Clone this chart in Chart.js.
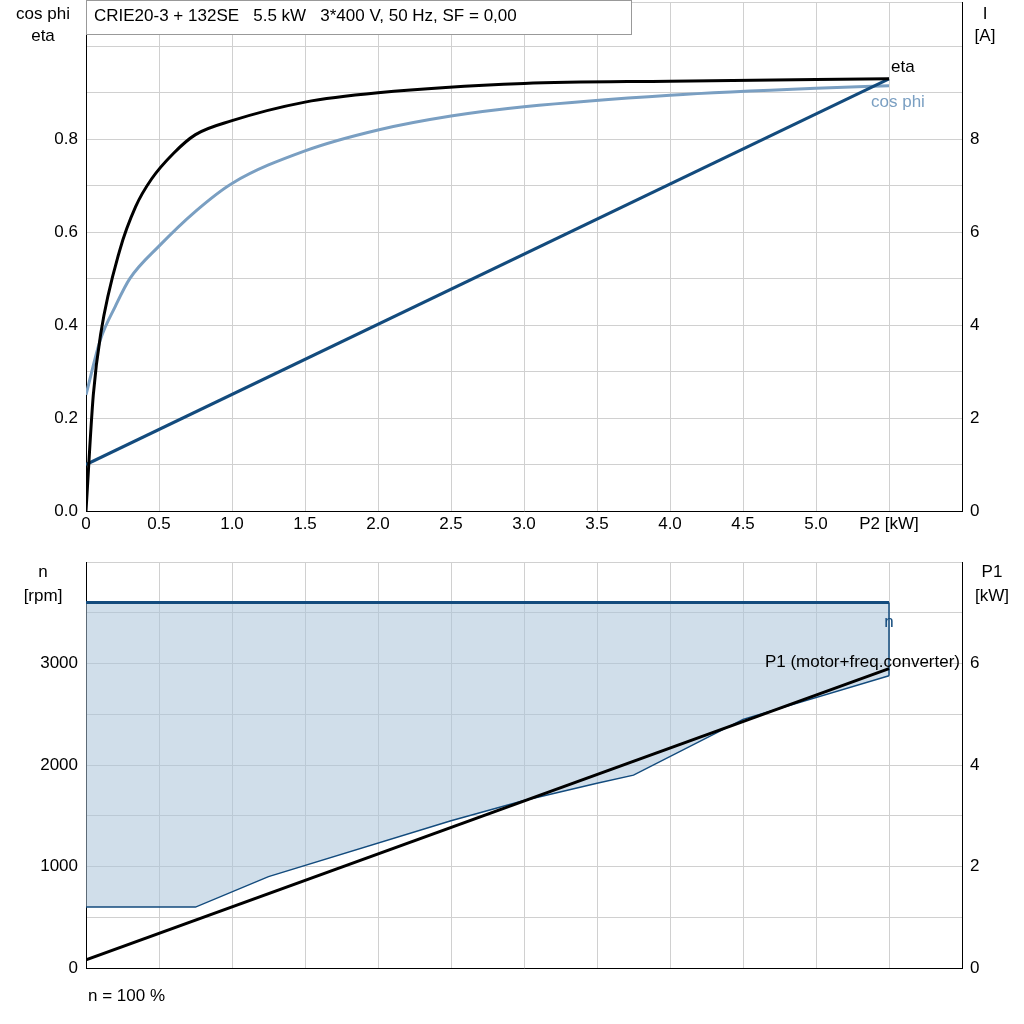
<!DOCTYPE html>
<html>
<head>
<meta charset="utf-8">
<script src="https://cdn.jsdelivr.net/npm/chart.js@4/dist/chart.umd.min.js"></script>
<style>
  body { margin: 0; background: #fff; overflow: hidden; }
  canvas { position: absolute; left: 0; }
  #top { top: -16px; }
  #bottom { top: 540px; }
</style>
</head>
<body>
<canvas id="top" width="1024" height="556"></canvas>
<canvas id="bottom" width="1024" height="484"></canvas>
<script>
// top chart data (x = P2 [kW])
var etaX = [0, 0.05, 0.1, 0.23, 0.34, 0.45, 0.6, 0.75, 1.0, 1.5, 2.0, 3.0, 4.0, 5.5];
var etaY = [0, 0.25, 0.38, 0.56, 0.655, 0.715, 0.77, 0.81, 0.84, 0.88, 0.9, 0.92, 0.925, 0.93];
var cosX = [0, 0.1, 0.2, 0.3, 0.5, 0.75, 1.0, 1.5, 2.0, 2.5, 3.0, 4.0, 5.0, 5.5];
var cosY = [0.25, 0.37, 0.44, 0.5, 0.57, 0.645, 0.705, 0.775, 0.82, 0.85, 0.87, 0.895, 0.91, 0.915];
var curX = [0, 5.5];
var curY = [1.0, 9.3];

// bottom chart data
var nX = [0, 5.5];
var nY = [3600, 3600];
var nLowX = [0, 0.75, 1.25, 2.5, 3.0, 3.5, 3.75, 4.5, 5.5];
var nLowY = [600, 600, 900, 1450, 1650, 1820, 1900, 2450, 2880];
var p1X = [0, 5.5];
var p1Y = [0.16, 5.9];

var font = { family: "'Liberation Sans', Arial, sans-serif", size: 17 };
var gridCol = '#d0d0d0';
var darkBlue = '#134b7d';
var lightBlue = '#7a9fc2';

function pts(xs, ys) { return xs.map(function (x, i) { return { x: x, y: ys[i] }; }); }
function fixW(w) { return function (s) { s.width = w; }; }
function fixH(h) { return function (s) { s.height = h; }; }

var textPlugin = function (items) {
  return {
    id: 'texts',
    afterDraw: function (chart) {
      var ctx = chart.ctx;
      ctx.save();
      ctx.font = "17px 'Liberation Sans', Arial, sans-serif";
      ctx.textBaseline = 'middle';
      items(chart).forEach(function (t) {
        if (t.box) {
          ctx.fillStyle = '#fff';
          ctx.fillRect(t.box[0], t.box[1], t.box[2], t.box[3]);
          ctx.strokeStyle = '#999';
          ctx.lineWidth = 1;
          ctx.strokeRect(t.box[0] + 0.5, t.box[1] + 0.5, t.box[2], t.box[3]);
        }
        ctx.fillStyle = t.c || '#000';
        ctx.textAlign = t.a || 'left';
        ctx.fillText(t.s, t.x, t.y);
      });
      ctx.restore();
    }
  };
};

new Chart(document.getElementById('top').getContext('2d'), {
  type: 'line',
  data: {
    datasets: [
      { data: pts(curX, curY), yAxisID: 'y2', borderColor: darkBlue, borderWidth: 3, pointRadius: 0 },
      { data: pts(cosX, cosY), yAxisID: 'y', borderColor: lightBlue, borderWidth: 3, pointRadius: 0, cubicInterpolationMode: 'monotone' },
      { data: pts(etaX, etaY), yAxisID: 'y', borderColor: '#000', borderWidth: 3, pointRadius: 0, cubicInterpolationMode: 'monotone', order: -1 }
    ]
  },
  options: {
    responsive: false, animation: false,
    layout: { padding: { top: 18, left: 0, right: 0 } },
    plugins: { legend: { display: false }, tooltip: { enabled: false } },
    scales: {
      x: {
        type: 'linear', min: 0, max: 6, afterFit: fixH(29),
        ticks: { stepSize: 0.5, font: font, color: '#000', maxRotation: 0,
          callback: function (v) { return v === 0 ? '0' : (v === 5.5 ? 'P2 [kW]' : (v >= 6 ? '' : v.toFixed(1))); } },
        grid: { color: gridCol, tickLength: 0 }, border: { color: '#000' }
      },
      y: {
        position: 'left', min: 0, max: 1.095, afterFit: fixW(86),
        ticks: { stepSize: 0.1, font: font, color: '#000', padding: 8,
          callback: function (v) { var r = Math.round(v * 10); return (r % 2 === 0 && r <= 8) ? (r / 10).toFixed(1) : ''; } },
        grid: { color: gridCol, tickLength: 0 }, border: { color: '#000' }
      },
      y2: {
        position: 'right', min: 0, max: 10.95, afterFit: fixW(62),
        ticks: { stepSize: 1, font: font, color: '#000', padding: 8,
          callback: function (v) { return (v % 2 === 0 && v <= 8) ? String(v) : ''; } },
        grid: { display: false, tickLength: 0 }, border: { color: '#000' }
      }
    }
  },
  plugins: [textPlugin(function (c) {
    var x = c.scales.x, y = c.scales.y;
    return [
      { s: 'CRIE20-3 + 132SE   5.5 kW   3*400 V, 50 Hz, SF = 0,00', x: 94, y: 32, box: [86, 16, 545, 34] },
      { s: 'cos phi', x: 43, y: 30, a: 'center' },
      { s: 'eta', x: 43, y: 52, a: 'center' },
      { s: 'I', x: 985, y: 30, a: 'center' },
      { s: '[A]', x: 985, y: 52, a: 'center' },
      { s: 'eta', x: x.getPixelForValue(5.5) + 2, y: y.getPixelForValue(0.93) - 12 },
      { s: 'cos phi', x: x.getPixelForValue(5.5) - 18, y: y.getPixelForValue(0.915) + 16, c: lightBlue }
    ];
  })]
});

new Chart(document.getElementById('bottom').getContext('2d'), {
  type: 'line',
  data: {
    datasets: [
      { data: pts(nLowX, nLowY), yAxisID: 'y', borderColor: darkBlue, borderWidth: 1.5, pointRadius: 0 },
      { data: pts(nX, nY), yAxisID: 'y', borderColor: darkBlue, borderWidth: 3, pointRadius: 0,
        fill: '-1', backgroundColor: 'rgba(170,194,216,0.55)' },
      { data: pts([5.5, 5.5], [nLowY[nLowY.length - 1], nY[1]]), yAxisID: 'y', borderColor: darkBlue, borderWidth: 1.5, pointRadius: 0 },
      { data: pts(p1X, p1Y), yAxisID: 'y2', borderColor: '#000', borderWidth: 3, pointRadius: 0, order: -1 }
    ]
  },
  options: {
    responsive: false, animation: false,
    layout: { padding: { top: 22 } },
    plugins: { legend: { display: false }, tooltip: { enabled: false }, filler: { propagate: false, drawTime: 'beforeDatasetsDraw' } },
    scales: {
      x: {
        type: 'linear', min: 0, max: 6, afterFit: fixH(56),
        ticks: { stepSize: 0.5, display: false },
        grid: { color: gridCol, tickLength: 0 }, border: { color: '#000' }
      },
      y: {
        position: 'left', min: 0, max: 4000, afterFit: fixW(86),
        ticks: { stepSize: 500, font: font, color: '#000', padding: 8,
          callback: function (v) { return (v % 1000 === 0 && v <= 3000) ? String(v) : ''; } },
        grid: { color: gridCol, tickLength: 0 }, border: { color: '#000' }
      },
      y2: {
        position: 'right', min: 0, max: 8, afterFit: fixW(62),
        ticks: { stepSize: 1, font: font, color: '#000', padding: 8,
          callback: function (v) { return (v % 2 === 0 && v <= 6) ? String(v) : ''; } },
        grid: { display: false, tickLength: 0 }, border: { color: '#000' }
      }
    }
  },
  plugins: [textPlugin(function (c) {
    var x = c.scales.x, y = c.scales.y;
    return [
      { s: 'n', x: 43, y: 32, a: 'center' },
      { s: '[rpm]', x: 43, y: 56, a: 'center' },
      { s: 'P1', x: 992, y: 32, a: 'center' },
      { s: '[kW]', x: 992, y: 56, a: 'center' },
      { s: 'n', x: x.getPixelForValue(5.5), y: y.getPixelForValue(3600) + 20, c: darkBlue, a: 'center' },
      { s: 'P1 (motor+freq.converter)', x: 960, y: 122, a: 'right' },
      { s: 'n = 100 %', x: 88, y: 456 }
    ];
  })]
});
</script>
</body>
</html>
